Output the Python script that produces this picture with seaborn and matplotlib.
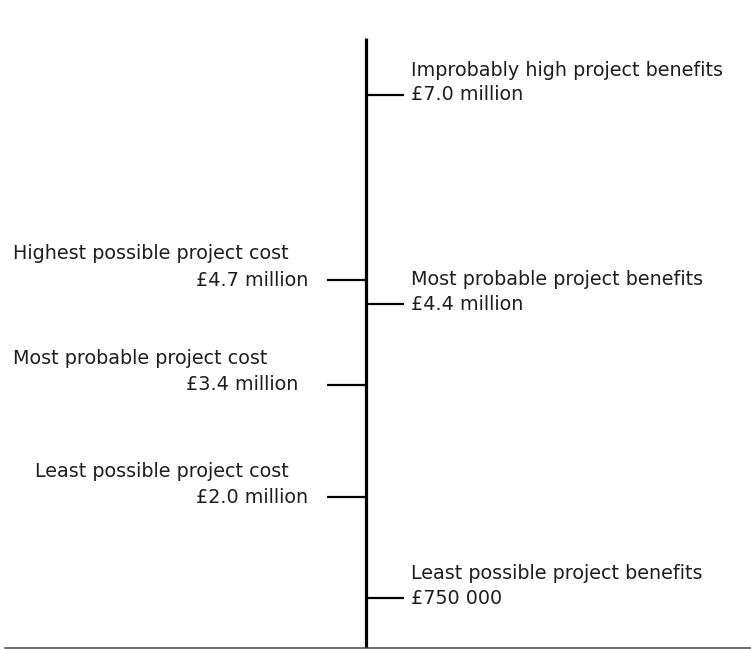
import matplotlib
matplotlib.use("Agg")
import matplotlib.pyplot as plt
import seaborn as sns
import pandas as pd

# values in £ million
benefit_labels = ["Improbably high project benefits",
                  "Most probable project benefits",
                  "Least possible project benefits"]
benefit_values = [7.0, 4.4, 0.75]
benefit_texts = ["£7.0 million", "£4.4 million", "£750 000"]

cost_labels = ["Highest possible project cost",
               "Most probable project cost",
               "Least possible project cost"]
cost_values = [4.7, 3.4, 2.0]
cost_texts = ["£4.7 million", "£3.4 million", "£2.0 million"]

benefits = pd.DataFrame({"label": benefit_labels, "value": benefit_values, "text": benefit_texts})
costs = pd.DataFrame({"label": cost_labels, "value": cost_values, "text": cost_texts})

sns.set_style("white")
plt.rcParams["font.family"] = ["DejaVu Sans"]

fig = plt.figure(figsize=(7.51, 6.49), dpi=100)
ax = fig.add_axes([5 / 751, 1.5 / 649, 1 - 5 / 751, 1 - 1.5 / 649])

# x in pixel-like offsets from the central axis line
ax.set_xlim(-361, 385)
ax.set_ylim(0.136, 8.179)
axis_top = 7.707

txt_color = "#1e1e1e"
fs = 13.8

ax.vlines(0, ax.get_ylim()[0], axis_top, color="black", lw=2.3)

# benefits on the right
ax.hlines(benefits["value"], 0, 38, color="black", lw=1.6)
for _, r in benefits.iterrows():
    ax.text(45, r["value"], r["text"], ha="left", va="center",
            fontsize=fs, color=txt_color)
    ax.annotate(r["label"], (45, r["value"]), xytext=(0, 17.5),
                textcoords="offset points", ha="left", va="center",
                fontsize=fs, color=txt_color)

# costs on the left (label anchors are a bit uneven in the original)
title_x = [-353, -353, -331]
text_x = [-170, -180, -170]
ax.hlines(costs["value"], -39, 0, color="black", lw=1.6)
for i, r in costs.iterrows():
    ax.text(text_x[i], r["value"], r["text"], ha="left", va="center",
            fontsize=fs, color=txt_color)
    ax.annotate(r["label"], (title_x[i], r["value"]), xytext=(0, 19),
                textcoords="offset points", ha="left", va="center",
                fontsize=fs, color=txt_color)

sns.despine(ax=ax, left=True, top=True, right=True)
ax.spines["bottom"].set_color("#444444")
ax.spines["bottom"].set_linewidth(1.1)
ax.set_xticks([])
ax.set_yticks([])

fig.savefig("out.png", dpi=100)
